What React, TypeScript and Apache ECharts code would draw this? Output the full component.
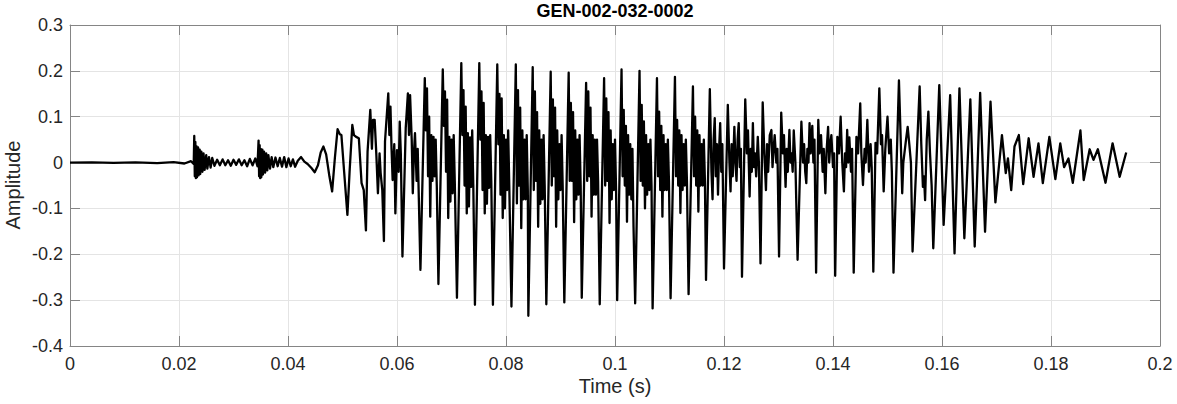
import React, { useEffect, useRef } from "react";
import * as echarts from "echarts";

// ---- waveform data (time in s, amplitude) ----
const silenceTime = [0, 0.004, 0.008, 0.012, 0.016, 0.019, 0.021, 0.0222];
const silenceAmp = [0, 0.0005, -0.0005, 0.0005, -0.001, 0.001, -0.002, 0.003];

const burstTime = [
  0.0227, 0.0228, 0.0229, 0.023, 0.0231, 0.0232, 0.0233, 0.0235, 0.0236, 0.0238,
  0.0239, 0.0241, 0.0243, 0.0245, 0.0247, 0.025, 0.0252, 0.0255, 0.0258, 0.0261,
  0.0265, 0.027, 0.0275, 0.028, 0.0285, 0.029, 0.0295, 0.03, 0.0305, 0.031,
  0.0315, 0.032, 0.0325, 0.033, 0.0335, 0.034, 0.0344,
  0.0346, 0.0347, 0.0348, 0.0349, 0.035, 0.0351, 0.0353, 0.0354, 0.0356, 0.0358,
  0.036, 0.0362, 0.0364, 0.0367, 0.037, 0.0373, 0.0377, 0.0381, 0.0385, 0.0389,
  0.0393, 0.0397, 0.0401, 0.0405, 0.0409, 0.0413, 0.0418, 0.0424, 0.043, 0.0436,
  0.0443, 0.0449, 0.0455, 0.046, 0.0465, 0.047, 0.0476,
];
const burstAmp = [
  -0.003, 0.058, -0.03, 0.045, -0.034, 0.036, -0.032, 0.033, -0.028, 0.028,
  -0.025, 0.024, -0.02, 0.02, -0.016, 0.016, -0.013, 0.012, -0.011, 0.01,
  -0.007, 0.006, -0.006, 0.007, -0.006, 0.005, -0.007, 0.006, -0.005, 0.007,
  -0.006, 0.005, -0.008, 0.008, -0.006, 0.009, -0.008,
  0.048, -0.03, 0.038, -0.034, 0.03, -0.032, 0.028, -0.026, 0.024, -0.022,
  0.02, -0.017, 0.016, -0.013, 0.012, -0.01, 0.011, -0.008, 0.01, -0.009,
  0.012, -0.01, 0.009, -0.008, 0.007, -0.009, 0.004, 0.012, 0.002, -0.003,
  -0.012, -0.021, -0.006, 0.022, 0.035, 0.018, -0.03,
];

const onsetTime = [
  0.0481, 0.0486, 0.0491, 0.0495, 0.0498, 0.0503, 0.0509, 0.0513, 0.0518, 0.0521,
  0.0525, 0.053, 0.0535, 0.0539, 0.0543, 0.0546, 0.0551, 0.0554, 0.0556, 0.0559,
  0.0562, 0.0565, 0.0568, 0.057, 0.0573, 0.0576, 0.0578, 0.0584, 0.0586, 0.0588,
  0.059, 0.0592, 0.0595, 0.0597, 0.06, 0.0603, 0.0605, 0.0607, 0.061, 0.0616,
  0.062, 0.0622, 0.0624, 0.0627, 0.0629, 0.0631, 0.0633, 0.0636, 0.0638,
];
const onsetAmp = [
  -0.063, 0.01, 0.073, 0.062, 0.06, -0.02, -0.114, -0.02, 0.082, 0.06,
  0.056, 0.053, -0.045, -0.06, -0.148, 0.024, 0.115, 0.03, 0.093, 0.093,
  0.02, -0.067, 0.02, -0.023, -0.06, -0.171, 0.046, 0.151, 0.06, 0.122,
  0.03, -0.038, 0.04, -0.111, 0.027, -0.02, 0.089, 0.02, -0.205, 0.075,
  0.151, 0.06, 0.147, 0.05, -0.067, 0.02, 0.064, -0.04, 0.03,
];

const voicedTime = [
  0.0643, 0.0651, 0.0653, 0.0655, 0.0657, 0.0659, 0.0661, 0.0663, 0.0665, 0.0667, 0.0669, 0.0671, 0.0673,
  0.0676, 0.0684, 0.0686, 0.0688, 0.069, 0.0692, 0.0694, 0.0696, 0.0698, 0.07, 0.0702, 0.0704, 0.0706,
  0.071, 0.0718, 0.072, 0.0722, 0.0724, 0.0726, 0.0728, 0.073, 0.0732, 0.0734, 0.0736, 0.0738, 0.074,
  0.0743, 0.0751, 0.0753, 0.0755, 0.0757, 0.0759, 0.0761, 0.0763, 0.0765, 0.0767, 0.0769, 0.0771, 0.0773,
  0.0776, 0.0784, 0.0786, 0.0788, 0.079, 0.0792, 0.0794, 0.0796, 0.0798, 0.08, 0.0802, 0.0804, 0.0806,
  0.081, 0.0818, 0.082, 0.0822, 0.0824, 0.0826, 0.0828, 0.083, 0.0832, 0.0834, 0.0836, 0.0838, 0.084,
  0.0841, 0.0849, 0.0851, 0.0853, 0.0855, 0.0857, 0.0859, 0.0861, 0.0863, 0.0865, 0.0867, 0.0869, 0.0871,
  0.0874, 0.0882, 0.0884, 0.0886, 0.0888, 0.089, 0.0892, 0.0894, 0.0896, 0.0898, 0.09, 0.0902, 0.0904,
  0.0907, 0.0915, 0.0917, 0.0919, 0.0921, 0.0923, 0.0925, 0.0927, 0.0929, 0.0931, 0.0933, 0.0935, 0.0937,
  0.0939, 0.0947, 0.0949, 0.0951, 0.0953, 0.0955, 0.0957, 0.0959, 0.0961, 0.0963, 0.0965, 0.0967, 0.0969,
  0.0972, 0.098, 0.0982, 0.0984, 0.0986, 0.0988, 0.099, 0.0992, 0.0994, 0.0996, 0.0998, 0.1, 0.1002,
  0.1004, 0.1012, 0.1014, 0.1016, 0.1018, 0.102, 0.1022, 0.1024, 0.1026, 0.1028, 0.103, 0.1032, 0.1034,
  0.1037, 0.1045, 0.1047, 0.1049, 0.1051, 0.1053, 0.1055, 0.1057, 0.1059, 0.1061, 0.1063, 0.1065, 0.1067,
  0.1069, 0.1077, 0.1079, 0.1081, 0.1083, 0.1085, 0.1087, 0.1089, 0.1091, 0.1093, 0.1095, 0.1097, 0.1099,
  0.1102, 0.111, 0.1112, 0.1114, 0.1116, 0.1118, 0.112, 0.1122, 0.1124, 0.1126, 0.1128, 0.113, 0.1132,
  0.1135, 0.1143, 0.1145, 0.1147, 0.1149, 0.1151, 0.1153, 0.1155, 0.1157, 0.1159, 0.1161, 0.1163, 0.1165,
];
const voicedAmp = [
  -0.234, 0.184, 0.07, 0.162, -0.03, 0.1, -0.118, 0.06, -0.04, 0.056, -0.03, 0.05, -0.05,
  -0.265, 0.203, 0.08, 0.155, -0.02, 0.137, -0.121, 0.056, -0.085, 0.05, -0.067, 0.06, -0.04,
  -0.295, 0.217, 0.06, 0.158, -0.05, 0.122, -0.111, 0.064, -0.096, 0.055, -0.053, 0.07, -0.05,
  -0.31, 0.217, 0.05, 0.155, -0.06, 0.13, -0.111, 0.06, -0.09, 0.056, -0.055, 0.06, -0.04,
  -0.31, 0.214, 0.04, 0.15, -0.07, 0.14, -0.121, 0.06, -0.1, 0.05, -0.06, 0.07, -0.05,
  -0.314, 0.214, -0.089, 0.158, -0.05, 0.12, -0.143, 0.07, -0.08, 0.05, -0.08, 0.06, -0.06,
  -0.334, 0.208, -0.06, 0.155, -0.04, 0.11, -0.14, 0.07, -0.09, 0.05, -0.08, 0.06, -0.05,
  -0.309, 0.198, -0.05, 0.138, -0.03, 0.12, -0.14, 0.07, -0.08, 0.04, -0.06, 0.06, -0.05,
  -0.305, 0.196, -0.04, 0.13, -0.04, 0.11, -0.13, 0.07, -0.08, 0.05, -0.07, 0.06, -0.05,
  -0.295, 0.174, -0.04, 0.155, -0.03, 0.12, -0.118, 0.06, -0.07, 0.05, -0.07, 0.05, -0.04,
  -0.309, 0.184, -0.05, 0.14, -0.04, 0.11, -0.132, 0.07, -0.08, 0.04, -0.06, 0.05, -0.06,
  -0.3, 0.203, -0.03, 0.115, -0.05, 0.08, -0.129, 0.06, -0.07, 0.04, -0.08, 0.03, -0.14,
  -0.307, 0.2, -0.04, 0.126, -0.05, 0.09, -0.1, 0.06, -0.07, 0.04, -0.06, 0.05, -0.05,
  -0.318, 0.184, -0.03, 0.111, -0.06, 0.08, -0.118, 0.06, -0.06, 0.04, -0.06, 0.05, -0.04,
  -0.296, 0.187, -0.03, 0.093, -0.05, 0.07, -0.11, 0.06, -0.06, 0.04, -0.05, 0.05, -0.04,
  -0.287, 0.166, -0.03, 0.1, -0.05, 0.07, -0.107, 0.06, -0.05, 0.04, -0.05, 0.05, -0.04,
];

const decayTime = [
  0.1167, 0.1174, 0.1177, 0.1179, 0.1181, 0.1183, 0.1185, 0.1187, 0.1189, 0.1191, 0.1193, 0.1195, 0.1197,
  0.12, 0.1207, 0.121, 0.1212, 0.1214, 0.1216, 0.1219, 0.1221, 0.1223, 0.1225, 0.1227, 0.1229, 0.1231,
  0.1233, 0.1239, 0.1242, 0.1244, 0.1247, 0.1249, 0.1251, 0.1253, 0.1255, 0.1257, 0.1259, 0.1262, 0.1264,
  0.1267, 0.1271, 0.1274, 0.1277, 0.1279, 0.1281, 0.1284, 0.1287, 0.1289, 0.1291, 0.1293, 0.1296, 0.1298,
  0.1301, 0.1305, 0.1308, 0.131, 0.1313, 0.1315, 0.1317, 0.132, 0.1322, 0.1324, 0.1326, 0.1328, 0.1331,
  0.1335, 0.1342, 0.1345, 0.1347, 0.1349, 0.1351, 0.1353, 0.1355, 0.1357, 0.1359, 0.1362, 0.1364, 0.1366,
  0.1369, 0.1373, 0.1375, 0.1378, 0.1381, 0.1383, 0.1386, 0.1388, 0.1391, 0.1393, 0.1395, 0.1397, 0.14, 0.1402,
  0.1404, 0.1408, 0.1411, 0.1414, 0.1417, 0.142, 0.1422, 0.1424, 0.1426, 0.1428, 0.143, 0.1433, 0.1435,
  0.1438, 0.1443, 0.1446, 0.145, 0.1452, 0.1455, 0.1458, 0.146, 0.1463, 0.1466, 0.1469, 0.1471,
  0.1474, 0.1478, 0.1481, 0.1485, 0.1488, 0.149, 0.1493, 0.1496, 0.15, 0.1503, 0.1506, 0.1508,
  0.1511, 0.1521, 0.1524, 0.1527, 0.1529, 0.1531, 0.1534, 0.1537, 0.154, 0.1543,
  0.1546, 0.1559, 0.1562, 0.1565, 0.1567, 0.1569, 0.1572, 0.1575, 0.1578, 0.1581,
];
const decayAmp = [
  -0.256, 0.16, -0.02, -0.08, 0.05, 0.097, -0.03, 0.04, -0.07, 0.03, 0.086, -0.02, 0.04,
  -0.231, 0.126, 0, -0.063, 0.04, -0.03, 0.078, 0, -0.04, 0.05, 0.086, -0.01, 0.03,
  -0.249, 0.138, 0.02, 0.07, -0.074, 0.03, -0.02, 0.086, -0.01, 0.02, -0.03, 0.056, 0,
  -0.22, 0.131, 0.02, -0.06, 0.04, -0.02, 0.06, 0.071, -0.01, 0.03, 0.06, 0, 0.03,
  -0.205, 0.109, 0.02, 0.06, -0.053, 0.03, -0.02, 0.071, 0, 0.02, -0.02, 0.07, 0,
  -0.212, 0.089, 0, 0.04, -0.02, -0.045, 0.03, 0, 0.086, 0.02, 0.08, 0, 0.05,
  -0.24, 0.093, 0.02, 0.06, -0.02, 0.03, -0.067, 0.02, 0.078, 0, 0.04, 0.06, -0.01, 0.02,
  -0.247, 0.056, 0.02, 0.1, 0, -0.063, 0.02, -0.01, 0.071, 0, 0.055, -0.02, 0.03,
  -0.24, 0.056, 0.02, 0.129, 0.02, -0.049, 0.03, 0, 0.093, -0.02, 0.04, -0.01,
  -0.238, 0.043, 0.02, 0.162, 0.04, 0.06, -0.063, 0.03, 0.1, 0.02, 0.05, -0.02,
  -0.24, 0.179, 0.06, -0.067, 0, 0.02, 0.05, 0.078, 0.04, 0,
  -0.194, 0.166, 0.04, -0.053, -0.03, -0.082, 0.05, 0.111, 0.02, -0.05,
];

const offsetTime = [
  0.1584, 0.1595, 0.1603, 0.1615, 0.1623, 0.1632, 0.1641, 0.1652, 0.166, 0.167,
  0.1679, 0.1689, 0.1698, 0.171, 0.1717, 0.1721, 0.1727, 0.1733, 0.1741, 0.1749,
  0.1759, 0.1768, 0.1777, 0.1785, 0.1797, 0.1808, 0.1817, 0.1824, 0.1832, 0.184,
  0.1854, 0.186, 0.1871, 0.1878, 0.1886, 0.19, 0.1913, 0.1926, 0.1938,
];
const offsetAmp = [
  -0.187, 0.169, -0.136, 0.147, -0.198, 0.162, -0.165, 0.138, -0.183, 0.152,
  -0.151, 0.133, -0.087, 0.06, -0.023, 0.009, -0.06, 0.035, 0.06, -0.047,
  0.053, -0.031, 0.042, -0.045, 0.056, -0.036, 0.042, -0.01, 0.009, -0.044,
  0.07, -0.038, 0.029, 0.006, 0.029, -0.044, 0.042, -0.031, 0.022,
];

const chartTitle = "GEN-002-032-0002";
const xAxisTitle = "Time (s)";
const yAxisTitle = "Amplitude";
const xMin = 0, xMax = 0.2, xStep = 0.02;
const yMin = -0.4, yMax = 0.3, yStep = 0.1;

const FONT = "'Liberation Sans', Arial, Helvetica, sans-serif";
const AXIS_COLOR = "#858585";
const GRID_COLOR = "#e4e4e4";
const TEXT_COLOR = "#262626";

function pairs(t: number[], a: number[]) {
  return t.map((x, i) => [x, a[i]]);
}

export default function App() {
  const ref = useRef<HTMLDivElement>(null);
  useEffect(() => {
    if (!ref.current) return;
    const chart = echarts.init(ref.current, null, { renderer: "svg" });
    const data = [
      ...pairs(silenceTime, silenceAmp),
      ...pairs(burstTime, burstAmp),
      ...pairs(onsetTime, onsetAmp),
      ...pairs(voicedTime, voicedAmp),
      ...pairs(decayTime, decayAmp),
      ...pairs(offsetTime, offsetAmp),
    ];
    const gridL = 70, gridT = 25, gridR = 17, gridB = 58;
    const axisLine = { show: true, onZero: false, lineStyle: { color: AXIS_COLOR, width: 1 } };
    const axisTick = { show: true, inside: true, length: 10, lineStyle: { color: AXIS_COLOR, width: 1 } };
    chart.setOption({
      animation: false,
      backgroundColor: "#ffffff",
      grid: { left: gridL, top: gridT, right: gridR, bottom: gridB, containLabel: false },
      xAxis: [
        {
          type: "value", min: xMin, max: xMax, interval: xStep, position: "bottom",
          axisLine, axisTick,
          axisLabel: {
            show: true, margin: 9, color: TEXT_COLOR, fontSize: 18, fontFamily: FONT,
            formatter: (v: number) => String(+v.toFixed(2)),
          },
          splitLine: { show: true, lineStyle: { color: GRID_COLOR, width: 1 } },
        },
        {
          type: "value", min: xMin, max: xMax, interval: xStep, position: "top",
          axisLine, axisTick, axisLabel: { show: false }, splitLine: { show: false },
        },
      ],
      yAxis: [
        {
          type: "value", min: yMin, max: yMax, interval: yStep, position: "left",
          axisLine, axisTick,
          axisLabel: {
            show: true, margin: 7, color: TEXT_COLOR, fontSize: 18, fontFamily: FONT,
            formatter: (v: number) => String(+v.toFixed(1)),
          },
          splitLine: { show: true, lineStyle: { color: GRID_COLOR, width: 1 } },
        },
        {
          type: "value", min: yMin, max: yMax, interval: yStep, position: "right",
          axisLine, axisTick, axisLabel: { show: false }, splitLine: { show: false },
        },
      ],
      series: [
        {
          type: "line", xAxisIndex: 0, yAxisIndex: 0, data,
          showSymbol: false, symbol: "none", smooth: false,
          lineStyle: { color: "#000000", width: 2.3, join: "round" },
          z: 5,
        },
      ],
      graphic: [
        {
          type: "text", x: 615, y: 11,
          style: {
            text: chartTitle, fontSize: 18, fontWeight: "bold", fontFamily: FONT,
            fill: "#000000", align: "center", verticalAlign: "middle",
          },
        },
        {
          type: "text", x: 615, y: 386,
          style: {
            text: xAxisTitle, fontSize: 20, fontFamily: FONT,
            fill: TEXT_COLOR, align: "center", verticalAlign: "middle",
          },
        },
        {
          type: "text", x: 13, y: 185, rotation: Math.PI / 2,
          style: {
            text: yAxisTitle, fontSize: 20, fontFamily: FONT,
            fill: TEXT_COLOR, align: "center", verticalAlign: "middle",
          },
        },
      ],
    });
    return () => chart.dispose();
  }, []);
  return (
    <div
      ref={ref}
      style={{ position: "absolute", left: 0, top: 0, width: 1177, height: 404, background: "#ffffff" }}
    />
  );
}
